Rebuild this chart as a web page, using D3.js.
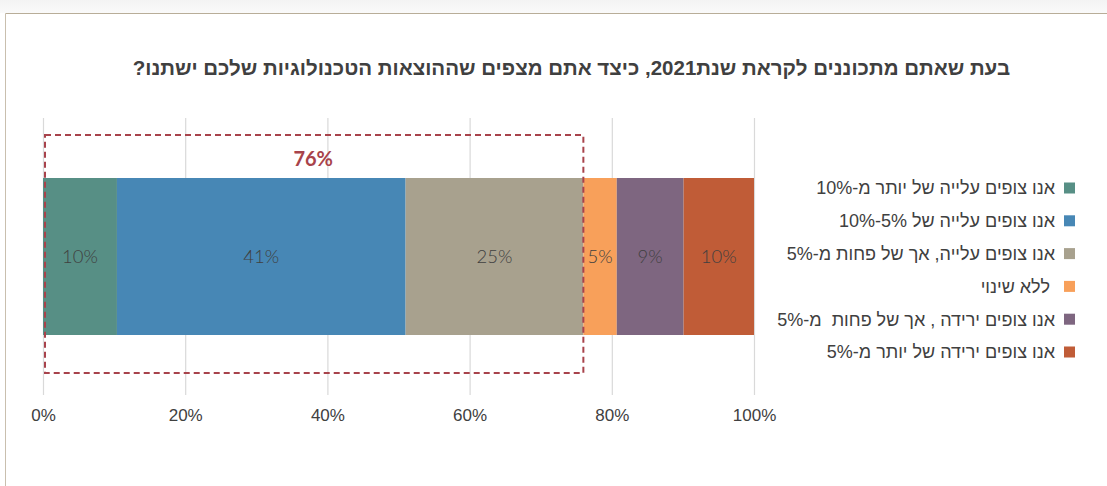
<!DOCTYPE html>
<html>
<head>
<meta charset="utf-8">
<script src="https://cdn.jsdelivr.net/npm/d3@7"></script>
<style>
  body { margin: 0; background: #fff; }
  svg { display: block; }
</style>
</head>
<body>
<svg id="chart" width="1107" height="486"></svg>
<script>
// data
const title = "בעת שאתם מתכוננים לקראת שנת2021, כיצד אתם מצפים שההוצאות הטכנולוגיות שלכם ישתנו?";
const categories = [
  "אנו צופים עלייה של יותר מ-10%",
  "אנו צופים עלייה של 5%-10%",
  "אנו צופים עלייה, אך של פחות מ-5%",
  " ללא שינוי",
  "אנו צופים ירידה , אך של פחות  מ-5%",
  "אנו צופים ירידה של יותר מ-5%"
];
const values = [0.104, 0.406, 0.250, 0.047, 0.094, 0.099];
const colors = ["#578f85", "#4787b5", "#a8a18e", "#f8a05a", "#7e6680", "#c05c37"];
const ticks = [0, 0.2, 0.4, 0.6, 0.8, 1];
const highlightCount = 3; // first three segments grouped in the dashed box
const highlightLabel = "76%";

const svg = d3.select("#chart");

// frame like the source screenshot
const grad = svg.append("defs").append("linearGradient")
  .attr("id", "topShade").attr("x1", 0).attr("y1", 0).attr("x2", 0).attr("y2", 1);
grad.append("stop").attr("offset", "0%").attr("stop-color", "#f3f3f3");
grad.append("stop").attr("offset", "100%").attr("stop-color", "#fafafa");
svg.append("rect").attr("x", 0).attr("y", 0).attr("width", 1107).attr("height", 13)
  .attr("fill", "url(#topShade)");
svg.append("line").attr("x1", 5.5).attr("x2", 1107).attr("y1", 13.5).attr("y2", 13.5)
  .attr("stroke", "#b8ad98").attr("stroke-width", 1);
svg.append("line").attr("x1", 5.5).attr("x2", 5.5).attr("y1", 13.5).attr("y2", 486)
  .attr("stroke", "#c9bfae").attr("stroke-width", 1);

svg.append("text")
  .attr("x", 1010).attr("y", 75)
  .attr("direction", "rtl")
  .attr("text-anchor", "start")
  .attr("font-family", "Liberation Sans, Arial, sans-serif")
  .attr("font-weight", "bold")
  .attr("font-size", "20.5px")
  .attr("fill", "#404040")
  .text(title);

const x = d3.scaleLinear().domain([0, 1]).range([43, 754]);
const y = d3.scaleBand().domain(["all"]).range([118, 395]).padding(0.2765);

// gridlines + tick labels
const axis = svg.append("g")
  .attr("transform", "translate(0,395)")
  .call(d3.axisBottom(x).tickValues(ticks).tickFormat(d3.format(".0%"))
    .tickSize(-277).tickPadding(14));
axis.select(".domain").remove();
axis.selectAll(".tick line").attr("stroke", "#d9d9d9").attr("stroke-width", 1.2);
axis.selectAll(".tick text")
  .attr("fill", "#404040")
  .attr("font-family", "Liberation Sans Narrow, Liberation Sans, sans-serif")
  .attr("font-size", "17px");

// stacked segments
let acc = 0;
const segs = values.map(function(v, i) {
  const s = { start: acc, end: acc + v, value: v, color: colors[i] };
  acc += v;
  return s;
});

svg.selectAll(".seg")
  .data(segs)
  .enter().append("rect")
  .attr("class", "seg")
  .attr("x", function(d) { return x(d.start); })
  .attr("y", y("all"))
  .attr("width", function(d) { return x(d.end) - x(d.start); })
  .attr("height", y.bandwidth())
  .attr("fill", function(d) { return d.color; });

svg.selectAll(".segLabel")
  .data(segs)
  .enter().append("text")
  .attr("class", "segLabel")
  .attr("x", function(d) { return (x(d.start) + x(d.end)) / 2; })
  .attr("y", y("all") + y.bandwidth() / 2)
  .attr("dy", "0.35em")
  .attr("text-anchor", "middle")
  .attr("font-family", "Lato, Noto Sans, sans-serif")
  .attr("font-weight", "300")
  .attr("font-size", "18.5px")
  .attr("fill", "#404040")
  .text(function(d) { return Math.round(d.value * 100) + "%"; });

// dashed highlight box around the first three segments
const hiEnd = segs[highlightCount - 1].end;
svg.append("rect")
  .attr("x", x(0) + 2)
  .attr("y", y("all") - 43)
  .attr("width", x(hiEnd) - x(0) - 2)
  .attr("height", y.bandwidth() + 81)
  .attr("fill", "none")
  .attr("stroke", "#a8434b")
  .attr("stroke-width", 2)
  .attr("stroke-dasharray", "6,4");

svg.append("text")
  .attr("x", (x(0) + x(hiEnd)) / 2)
  .attr("y", y("all") - 12)
  .attr("text-anchor", "middle")
  .attr("font-family", "Lato, Noto Sans, sans-serif")
  .attr("font-weight", "bold")
  .attr("font-size", "20px")
  .attr("fill", "#a8434b")
  .text(highlightLabel);

// legend
const legend = svg.selectAll(".leg")
  .data(categories)
  .enter().append("g")
  .attr("class", "leg")
  .attr("transform", function(d, i) { return "translate(0," + (188 + i * 32.8) + ")"; });

legend.append("rect")
  .attr("x", 1064).attr("y", -5.5)
  .attr("width", 11).attr("height", 11)
  .attr("fill", function(d, i) { return colors[i]; });

legend.append("text")
  .attr("x", 1055).attr("y", 0)
  .attr("dy", "0.35em")
  .attr("direction", "rtl")
  .attr("text-anchor", "start")
  .attr("font-family", "Liberation Sans, Arial, sans-serif")
  .attr("font-size", "18px")
  .attr("fill", "#404040")
  .style("white-space", "pre")
  .text(function(d) { return d; });
</script>
</body>
</html>
